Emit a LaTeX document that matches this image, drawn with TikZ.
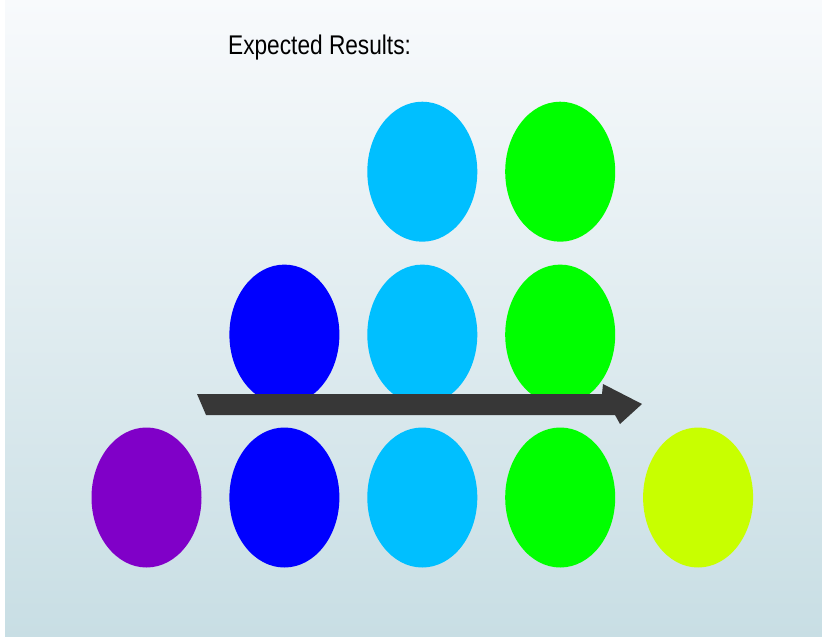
\documentclass[tikz,border=0pt]{standalone}
\usepackage{fontspec}
\setmainfont{Liberation Sans}
\usetikzlibrary{positioning,shapes.geometric}
\definecolor{bgtop}{RGB}{248,250,252}
\definecolor{bgbottom}{RGB}{200,222,228}
\definecolor{violeta}{RGB}{128,0,200}
\definecolor{azul}{RGB}{0,0,255}
\definecolor{celeste}{RGB}{0,191,255}
\definecolor{verde}{RGB}{0,255,0}
\definecolor{lima}{RGB}{200,255,0}
\definecolor{flecha}{RGB}{55,55,55}

\begin{document}
\begin{tikzpicture}[x=1pt,y=-1pt,node distance=22.5pt and 27.5pt,
  every node/.style={font=\small,align=center},
  ball/.style={ellipse, minimum width=110pt, minimum height=140pt, inner sep=0pt}]

% Fondo
\useasboundingbox (0,0) rectangle (822,637);
\shade[top color=bgtop, bottom color=bgbottom] (5,0) rectangle (822,637);

% Titulo
\node[anchor=base west, font=\fontsize{27}{30}\selectfont, xscale=0.84, transform shape, inner sep=0pt] (title) at (228,54) {Expected Results:};

% Fila inferior
\node[ball, fill=violeta] (A1) at (146.5,497.5) {};
\node[ball, fill=azul, right=of A1] (A2) {};
\node[ball, fill=celeste, right=of A2] (A3) {};
\node[ball, fill=verde, right=of A3] (A4) {};
\node[ball, fill=lima, right=of A4] (A5) {};

% Fila central
\node[ball, fill=azul, above=of A2] (B2) {};
\node[ball, fill=celeste, above=of A3] (B3) {};
\node[ball, fill=verde, above=of A4] (B4) {};

% Fila superior
\node[ball, fill=celeste, above=of B3] (C3) {};
\node[ball, fill=verde, above=of B4] (C4) {};

% Flecha
\fill[flecha] (197,394) -- (602,394) -- (603,384) -- (642,404) -- (620,424) -- (615,415) -- (206,415) -- cycle;

\end{tikzpicture}
\end{document}
